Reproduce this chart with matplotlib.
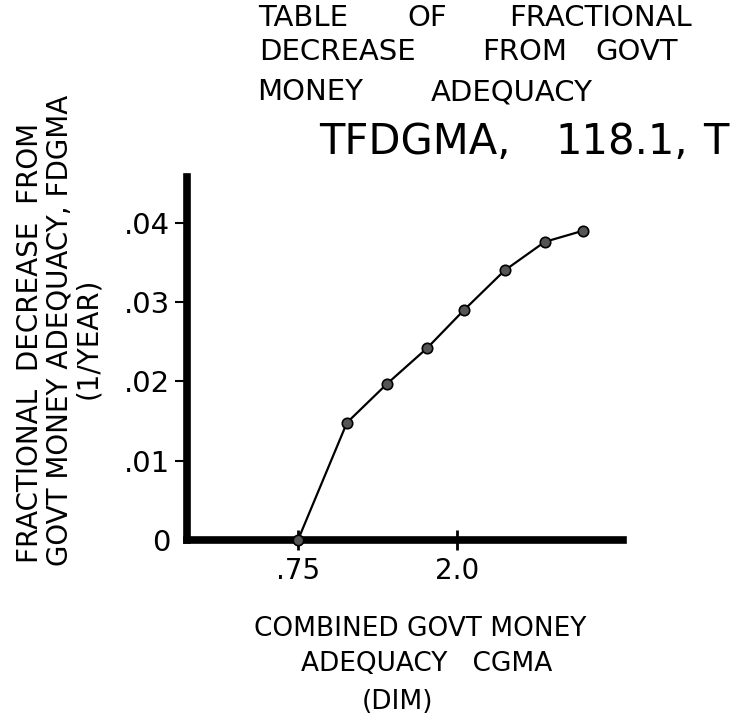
import matplotlib.pyplot as plt

cgma = [1.75, 1.827, 1.89, 1.953, 2.011, 2.075, 2.138, 2.198]
fdgma = [0.0, 0.0148, 0.0197, 0.0242, 0.029, 0.034, 0.0376, 0.039]

x_ticks = [1.75, 2.0]
x_tick_labels = ['.75', '2.0']
y_ticks = [0, 0.01, 0.02, 0.03, 0.04]
y_tick_labels = ['0', '.01', '.02', '.03', '.04']

title_words = [['TABLE', 'OF', 'FRACTIONAL'],
               ['DECREASE', 'FROM', 'GOVT'],
               ['MONEY', 'ADEQUACY'],
               ['TFDGMA,', '118.1,', 'T']]
ylabel_lines = ['FRACTIONAL  DECREASE  FROM', 'GOVT MONEY ADEQUACY, FDGMA', '(1/YEAR)']
xlabel_lines = ['COMBINED GOVT MONEY', 'ADEQUACY   CGMA', '(DIM)']


def main():
    W, H = 741, 719
    fig = plt.figure(figsize=(W / 100, H / 100), dpi=100)
    ax = fig.add_axes([187 / W, 1 - 540 / H, (623 - 187) / W, (540 - 177) / H])

    ax.plot(cgma, fdgma, color='black', lw=1.6, marker='o', ms=7.5,
            mfc='#555555', mec='black', mew=1.2, clip_on=False, zorder=3)

    ax.set_xlim(1.5755, 2.261)
    ax.set_ylim(0, 0.04578)

    for side in ['top', 'right']:
        ax.spines[side].set_visible(False)
    for side in ['left', 'bottom']:
        ax.spines[side].set_linewidth(5.5)

    ax.set_xticks(x_ticks, x_tick_labels, fontsize=20)
    ax.set_yticks(y_ticks, y_tick_labels, fontsize=21)
    ax.tick_params(axis='x', direction='inout', length=14, width=2, pad=5)
    ax.tick_params(axis='y', direction='out', length=9, width=1.5, pad=3)
    ax.yaxis.get_major_ticks()[0].tick1line.set_visible(False)

    # title block, top right, word by word like the handwriting
    word_x = [[303, 427, 600], [337, 525, 637], [310, 512], [415, 622, 716]]
    line_y = [18, 52, 92, 142]
    sizes = [21, 21, 21, 30]
    for words, xs, y, fs in zip(title_words, word_x, line_y, sizes):
        for w, x in zip(words, xs):
            fig.text(x / W, 1 - y / H, w, fontsize=fs, ha='center', va='center')

    # y label, three rotated lines
    for text, x, y in zip(ylabel_lines, [30, 60, 88], [343, 330, 338]):
        fig.text(x / W, 1 - y / H, text, fontsize=20, rotation=90,
                 ha='center', va='center')

    # x label, three lines under the axis
    for text, x, y in zip(xlabel_lines, [420, 427, 398], [629, 664, 702]):
        fig.text(x / W, 1 - y / H, text, fontsize=19, ha='center', va='center')

    fig.savefig('out.png', dpi=100, facecolor='white')


if __name__ == "__main__":
    main()
